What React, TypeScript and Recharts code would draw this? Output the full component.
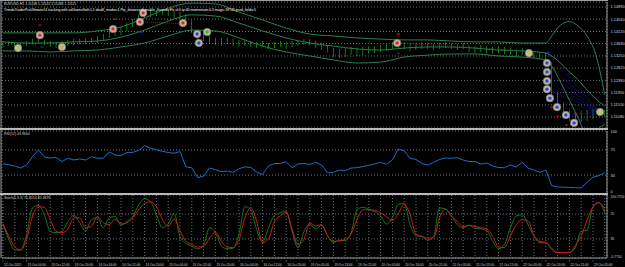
import React from "react";
import { Bar, CartesianGrid, ComposedChart, Line, Scatter, XAxis, YAxis } from "recharts";

// hourly bar index, one sample every second bar
const barTimes = [
  0, 2, 4, 6, 8, 10, 12, 14, 16, 18, 20, 22, 24, 26, 28, 30, 32, 34, 36, 38,
  40, 42, 44, 46, 48, 50, 52, 54, 56, 58, 60, 62, 64, 66, 68, 70, 72, 74, 76, 78,
  80, 82, 84, 86, 88, 90, 92, 94, 96, 98, 100, 102, 104, 106, 108, 110, 112, 114, 116, 118,
  120, 122, 124, 126, 128, 130, 132, 134, 136, 138, 140, 142, 144, 146, 148, 150, 152, 154, 156, 158,
  160, 162, 164, 166, 168, 170, 172, 174, 176, 178, 180, 182, 184, 186, 188, 190, 192, 194, 196, 198,
  200, 202, 204,
];

const priceHigh = [
  1.1378, 1.1378, 1.1375, 1.1371, 1.1378, 1.1385, 1.1392, 1.1382, 1.1378, 1.1371,
  1.1378, 1.1382, 1.1385, 1.1385, 1.1389, 1.1389, 1.1396, 1.1403, 1.1414, 1.1421,
  1.1428, 1.1442, 1.1456, 1.1471, 1.1485, 1.1488, 1.1488, 1.1492, 1.1488, 1.1485,
  1.1481, 1.1474, 1.1453, 1.1417, 1.141, 1.1399, 1.1389, 1.1389, 1.1389, 1.1385,
  1.1382, 1.1382, 1.1378, 1.1375, 1.1378, 1.1371, 1.1375, 1.1378, 1.1375, 1.1378,
  1.1382, 1.1385, 1.1385, 1.1378, 1.1371, 1.1364, 1.1353, 1.135, 1.1353, 1.1357,
  1.1353, 1.1357, 1.136, 1.136, 1.1364, 1.1367, 1.1375, 1.1382, 1.1375, 1.1367,
  1.1371, 1.1375, 1.1371, 1.1367, 1.1371, 1.1375, 1.1371, 1.1367, 1.1371, 1.1364,
  1.136, 1.1364, 1.136, 1.1357, 1.136, 1.1357, 1.1353, 1.135, 1.1353, 1.135,
  1.1343, 1.1339, 1.1339, 1.1303, 1.1197, 1.1158, 1.1133, 1.1119, 1.1129, 1.1133,
  1.1136, 1.1136, 1.1133,
];

const priceLow = [
  1.1357, 1.136, 1.1353, 1.135, 1.136, 1.1367, 1.1375, 1.1364, 1.1357, 1.1353,
  1.1357, 1.136, 1.1364, 1.1367, 1.1367, 1.1371, 1.1371, 1.1382, 1.1389, 1.1396,
  1.1399, 1.1414, 1.1428, 1.1442, 1.146, 1.1463, 1.1467, 1.1471, 1.1467, 1.146,
  1.1456, 1.1439, 1.1407, 1.1382, 1.1378, 1.1367, 1.1364, 1.136, 1.1367, 1.136,
  1.1357, 1.136, 1.1357, 1.1353, 1.1357, 1.135, 1.1353, 1.1357, 1.135, 1.1357,
  1.136, 1.1364, 1.1364, 1.1353, 1.1346, 1.1339, 1.1321, 1.1318, 1.1321, 1.1328,
  1.1325, 1.1328, 1.1332, 1.1335, 1.1339, 1.1343, 1.135, 1.1353, 1.135, 1.1343,
  1.1346, 1.135, 1.135, 1.1346, 1.135, 1.1353, 1.135, 1.1346, 1.135, 1.1339,
  1.1335, 1.1339, 1.1335, 1.1332, 1.1335, 1.1332, 1.1328, 1.1325, 1.1328, 1.1325,
  1.1318, 1.1314, 1.1296, 1.1176, 1.1133, 1.1112, 1.1094, 1.1083, 1.109, 1.1094,
  1.1101, 1.1112, 1.1108,
];

const rsiValues = [
  48, 46.5, 44.4, 41.2, 46, 59.3, 70, 58.8, 57.2, 58,
  51.6, 56.7, 54, 55.6, 54, 59.3, 56.7, 56.7, 66.8, 62,
  60.9, 66, 66, 69.2, 76.9, 72.4, 70.3, 67.8, 65.8, 64.7,
  67.3, 43.3, 41.7, 26, 28.4, 41.2, 38.8, 35.6, 36.4, 34.3,
  40.1, 43.1, 42, 34.8, 31.1, 44.4, 48.4, 48.4, 51.3, 41.7,
  47.6, 48.4, 47.1, 50.3, 46, 33.5, 34.3, 38, 37.2, 41.2,
  41.7, 43.6, 45.5, 47.6, 50.3, 47.1, 54, 71.6, 68.4, 56.7,
  54.8, 48.4, 46, 50.3, 54.8, 57.2, 56.7, 57.7, 54, 51.6,
  51.6, 47.6, 49.2, 44.4, 42, 41.7, 46, 42.8, 50.3, 41.2,
  38, 34.3, 38, 13.2, 11.1, 10.8, 10.3, 10, 9.7, 18.8,
  26.8, 29.2, 34,
];

const stochMain = [
  53, 29, 12, 12, 37, 80, 84, 69, 42, 40,
  42, 58, 68, 56, 43, 61, 64, 48, 64, 66,
  52, 58, 66, 85, 95, 90, 69, 48, 54, 71,
  34, 23, 18, 14, 20, 48, 40, 19, 14, 15,
  38, 82, 77, 45, 25, 48, 68, 72, 75, 42,
  16, 42, 54, 46, 52, 36, 24, 28, 27, 40,
  77, 81, 78, 74, 67, 54, 64, 86, 87, 53,
  35, 34, 28, 34, 80, 78, 67, 53, 48, 52,
  47, 46, 43, 26, 14, 21, 48, 67, 69, 53,
  35, 26, 24, 15, 8, 8, 8, 16, 42, 44,
  82, 88, 72,
];

const stochSignal = [
  54, 34, 17, 12, 29, 67, 82, 81, 62, 42,
  40, 46, 64, 64, 48, 51, 66, 56, 53, 62,
  54, 56, 64, 77, 87, 90, 82, 62, 50, 62,
  43, 26, 21, 17, 18, 31, 41, 26, 17, 16,
  29, 64, 80, 58, 24, 30, 58, 67, 73, 46,
  21, 29, 56, 51, 53, 35, 26, 27, 29, 38,
  61, 77, 77, 76, 72, 66, 60, 71, 86, 69,
  38, 34, 31, 32, 64, 78, 67, 58, 50, 52,
  50, 48, 46, 34, 17, 16, 35, 53, 61, 59,
  35, 24, 24, 13, 8, 8, 8, 19, 35, 60,
  82, 89, 77,
];

// bands
const bandTimes = [
  0, 8, 16, 24, 32, 40, 48, 56, 64, 72, 80, 88, 96, 104, 112, 120, 128, 136, 144, 152,
  160, 168, 176, 184, 186, 189, 192, 195, 198, 201, 204,
];
const upperBand = [
  1.1407, 1.1407, 1.1407, 1.1407, 1.1414, 1.1428, 1.146, 1.1495, 1.1513, 1.151,
  1.1481, 1.1453, 1.1424, 1.1403, 1.1396, 1.1389, 1.1385, 1.1382, 1.1382, 1.1378,
  1.1375, 1.1375, 1.1371, 1.1371, 1.1396, 1.1435, 1.1447, 1.1431, 1.1396, 1.1328, 1.1186,
];
const middleBand = [
  1.1375, 1.1371, 1.1371, 1.1375, 1.1378, 1.1392, 1.1417, 1.1449, 1.1471, 1.1467,
  1.1442, 1.1414, 1.1389, 1.1371, 1.136, 1.135, 1.1346, 1.1353, 1.1357, 1.1357,
  1.1353, 1.1346, 1.1343, 1.1335, 1.1325, 1.13, 1.1268, 1.124, 1.1204, 1.1172, 1.1147,
];
const lowerBand = [
  1.1343, 1.1343, 1.1339, 1.1343, 1.1346, 1.1357, 1.1371, 1.1396, 1.1417, 1.1414,
  1.1389, 1.136, 1.1339, 1.1325, 1.1311, 1.13, 1.1303, 1.1321, 1.1328, 1.1332,
  1.1332, 1.1325, 1.1321, 1.1311, 1.1289, 1.1232, 1.1168, 1.1104, 1.1047, 1.1062, 1.1083,
];

// signal circles
const signalTimes = [5.1, 12.5, 20, 37.3, 46.4, 47.5, 61, 65.8, 66.4, 69.2, 133.6, 178.3, 184.4, 184.4, 184.4, 184.4, 185.4, 187.8, 190.8, 193.6, 202.4];
const signalPrices = [1.1353, 1.1399, 1.1357, 1.1421, 1.1446, 1.1478, 1.1442, 1.1403, 1.1371, 1.141, 1.1371, 1.1335, 1.13, 1.1268, 1.1236, 1.1207, 1.1175, 1.1143, 1.1115, 1.1087, 1.1126];
const signalKinds = ["lime", "red", "orange", "red", "red", "red", "red", "blue", "blue", "green", "red", "lime", "blue", "blue", "blue", "blue", "blue", "blue", "blue", "blue", "lime"];

// small arrows
const markTimes = [12.5, 38, 134, 186, 188, 191, 194, 13.2, 47, 134, 184.8];
const markPrices = [1.1435, 1.1456, 1.1403, 1.1143, 1.1111, 1.108, 1.1122, 1.1357, 1.141, 1.1335, 1.1339];
const markKinds = ["red", "red", "red", "red", "red", "red", "red", "blue", "blue", "blue", "blue"];

// fan of blue dotted lines after the drop
const fanStartTimes = [184.6, 184.4, 184.4, 184.4, 184.4, 185.4, 187.8, 190.8, 193.6];
const fanStartPrices = [1.1335, 1.13, 1.1268, 1.1236, 1.1207, 1.1175, 1.1143, 1.1115, 1.1087];
const fanEndTime = 202.4;
const fanEndPrice = 1.1126;

// red dotted lines
const redLineTimes = [[47.5, 61], [135, 178]];
const redLinePrices = [[1.1446, 1.1439], [1.1371, 1.1342]];

const priceTicks = [1.1108, 1.1151, 1.1195, 1.1238, 1.1282, 1.1325, 1.1369, 1.1412, 1.1456, 1.1499];
const rsiTicks = [0, 30, 70, 100];
const stochTicks = [-0.775, 30, 70, 100.775];

const gridTimes = [
  0, 4, 8, 12, 16, 20, 24, 28, 32, 36, 40, 44, 48, 52, 56, 60, 64, 68, 72, 76, 80, 84, 88, 92, 96, 100,
  104, 108, 112, 116, 120, 124, 128, 132, 136, 140, 144, 148, 152, 156, 160, 164, 168, 172, 176, 180, 184, 188, 192, 196, 200, 204,
];
const labelTimes = [0, 8, 16, 24, 32, 40, 48, 56, 64, 72, 80, 88, 96, 104, 112, 120, 128, 136, 144, 152, 160, 168, 176, 184, 192, 200];
const timeLabels = [
  "12 Oct 2015", "13 Oct 04:00", "13 Oct 12:00", "13 Oct 20:00", "14 Oct 04:00", "14 Oct 12:00", "14 Oct 20:00",
  "15 Oct 04:00", "15 Oct 12:00", "15 Oct 20:00", "16 Oct 04:00", "16 Oct 12:00", "16 Oct 20:00", "19 Oct 05:00",
  "19 Oct 13:00", "19 Oct 21:00", "20 Oct 05:00", "20 Oct 13:00", "20 Oct 21:00", "21 Oct 05:00", "21 Oct 13:00",
  "21 Oct 21:00", "22 Oct 05:00", "22 Oct 13:00", "22 Oct 21:00", "23 Oct 05:00",
];

const FONT = "'Liberation Sans', Arial, sans-serif";
const GRID = "#66707b";
const TEXT = "#d2d2d2";
const AXIS = "#9c9c9c";
const X_DOMAIN: [number, number] = [-0.34, 204.75];

const CIRCLE_COLORS: { [k: string]: string } = {
  red: "#e4262a",
  blue: "#2346e0",
  lime: "#b4d236",
  orange: "#e8a020",
  green: "#2cc02c",
};

const mainData = barTimes.map((t, i) => ({ t, range: [priceLow[i], priceHigh[i]] }));
const rsiData = barTimes.map((t, i) => ({ t, v: rsiValues[i] }));
const stochData = barTimes.map((t, i) => ({ t, main: stochMain[i], signal: stochSignal[i] }));
const bandData = (vals: number[]) => bandTimes.map((t, i) => ({ t, v: vals[i] }));
const signalData = signalTimes.map((t, i) => ({ t, v: signalPrices[i], kind: signalKinds[i] }));
const markData = markTimes.map((t, i) => ({ t, v: markPrices[i], kind: markKinds[i] }));
const fanData = fanStartTimes.map((t, i) => [
  { t, v: fanStartPrices[i] },
  { t: fanEndTime, v: fanEndPrice },
]);
const redLineData = redLineTimes.map((ts, i) => ts.map((t, j) => ({ t, v: redLinePrices[i][j] })));

const SignalCircle = (props: any) => {
  const { cx, cy, payload } = props;
  return (
    <g>
      <circle cx={cx} cy={cy} r={3.8} fill="#bfb9a6" stroke="#6e6a5d" strokeWidth={0.6} />
      <circle cx={cx} cy={cy} r={1.7} fill={CIRCLE_COLORS[payload.kind]} />
    </g>
  );
};

const Mark = (props: any) => {
  const { cx, cy, payload } = props;
  return <rect x={cx - 1.5} y={cy - 0.5} width={3} height={1.2} fill={payload.kind === "red" ? "#c01818" : "#1a2ad0"} />;
};

// right-hand scale labels; dy nudges the edge labels so neighbouring panels do not collide
const rightTick = (fmt: (v: number) => string, dyFor: (v: number) => number, size: number) => (props: any) => {
  const { x, y, payload } = props;
  return (
    <text x={x + 1.5} y={y + 1.4 + dyFor(payload.value)} fill={TEXT} fontSize={size} fontFamily={FONT}>
      {fmt(payload.value)}
    </text>
  );
};

const TimeTick = (props: any) => {
  const { x, y, payload } = props;
  const idx = labelTimes.indexOf(payload.value);
  if (idx < 0) return <g />;
  return (
    <g>
      <line x1={x} x2={x} y1={y} y2={y + 1.5} stroke={AXIS} strokeWidth={0.6} />
      <text x={x + 1} y={y + 5.5} fill={TEXT} fontSize={3.2} fontFamily={FONT}>
        {timeLabels[idx]}
      </text>
    </g>
  );
};

const hiddenX = (
  <XAxis dataKey="t" type="number" domain={X_DOMAIN} ticks={gridTimes} allowDataOverflow height={0} tick={false} axisLine={false} tickLine={false} />
);

export default function App() {
  return (
    <div style={{ position: "absolute", left: 0, top: 0, width: 625, height: 267, background: "#000", overflow: "hidden" }}>
      <div style={{ position: "absolute", left: 0, top: 0 }}>
        <ComposedChart width={625} height={130} data={mainData} margin={{ top: 2, right: 0, bottom: 2, left: 2 }}>
          <CartesianGrid stroke={GRID} strokeDasharray="1 2" />
          {hiddenX}
          <YAxis
            orientation="right"
            width={18}
            domain={[1.10689, 1.15168]}
            ticks={priceTicks}
            interval={0}
            allowDataOverflow
            tick={rightTick((v) => v.toFixed(5), () => 0, 3.9)}
            tickLine={false}
            tickSize={0}
            axisLine={{ stroke: AXIS }}
          />
          {fanData.map((d, i) => (
            <Line key={"fan" + i} data={d} dataKey="v" stroke="#1a1ab4" strokeWidth={0.8} strokeDasharray="1 1" dot={false} activeDot={false} isAnimationActive={false} />
          ))}
          <Line data={bandData(upperBand)} dataKey="v" type="monotone" stroke="#2e7f4f" strokeWidth={1} dot={false} activeDot={false} isAnimationActive={false} />
          <Line data={bandData(middleBand)} dataKey="v" type="monotone" stroke="#2e7f4f" strokeWidth={1} dot={false} activeDot={false} isAnimationActive={false} />
          <Line data={bandData(lowerBand)} dataKey="v" type="monotone" stroke="#2e7f4f" strokeWidth={1} dot={false} activeDot={false} isAnimationActive={false} />
          <Bar dataKey="range" fill="#22dc22" barSize={3} isAnimationActive={false} />
          {redLineData.map((d, i) => (
            <Line key={"rl" + i} data={d} dataKey="v" stroke="#a01010" strokeWidth={1} strokeDasharray="1 1" dot={false} activeDot={false} isAnimationActive={false} />
          ))}
          <Scatter data={markData} dataKey="v" shape={Mark} isAnimationActive={false} />
          <Scatter data={signalData} dataKey="v" shape={SignalCircle} isAnimationActive={false} />
        </ComposedChart>
      </div>

      <div style={{ position: "absolute", left: 0, top: 129 }}>
        <ComposedChart width={625} height={67} data={rsiData} margin={{ top: 2, right: 0, bottom: 2, left: 2 }}>
          <CartesianGrid stroke={GRID} strokeDasharray="1 2" />
          {hiddenX}
          <YAxis
            orientation="right"
            width={18}
            domain={[0, 100]}
            ticks={rsiTicks}
            interval={0}
            allowDataOverflow
            tick={rightTick((v) => String(v), (v) => (v === 0 ? -2 : v === 100 ? 1 : 0), 3.9)}
            tickLine={false}
            tickSize={0}
            axisLine={{ stroke: AXIS }}
          />
          <Line dataKey="v" stroke="#1c6fc8" strokeWidth={1} dot={false} activeDot={false} isAnimationActive={false} />
        </ComposedChart>
      </div>

      <div style={{ position: "absolute", left: 0, top: 193 }}>
        <ComposedChart width={625} height={74} data={stochData} margin={{ top: 2, right: 0, bottom: 0, left: 2 }}>
          <CartesianGrid stroke={GRID} strokeDasharray="1 2" />
          <XAxis
            dataKey="t"
            type="number"
            domain={X_DOMAIN}
            ticks={gridTimes}
            interval={0}
            allowDataOverflow
            height={9}
            tick={TimeTick}
            tickLine={false}
            tickSize={0}
            axisLine={{ stroke: AXIS }}
          />
          <YAxis
            orientation="right"
            width={18}
            domain={[-0.775, 100.775]}
            ticks={stochTicks}
            interval={0}
            allowDataOverflow
            tick={rightTick(
              (v) => (Number.isInteger(v) ? String(v) : v.toFixed(4)),
              (v) => (v > 100 ? 1.5 : v < 0 ? -1 : 0),
              3.3
            )}
            tickLine={false}
            tickSize={0}
            axisLine={{ stroke: AXIS }}
          />
          <Line dataKey="main" type="monotone" stroke="#147a14" strokeWidth={1} dot={false} activeDot={false} isAnimationActive={false} />
          <Line dataKey="signal" type="monotone" stroke="#d21a1a" strokeWidth={1} dot={false} activeDot={false} isAnimationActive={false} />
        </ComposedChart>
      </div>

      <svg width={625} height={267} style={{ position: "absolute", left: 0, top: 0, pointerEvents: "none" }}>
        <rect x={0} y={0} width={608} height={1} fill={AXIS} />
        <rect x={0.5} y={0} width={1} height={258} fill={AXIS} />
        <rect x={0} y={128} width={608} height={2} fill="#b8b8b8" />
        <rect x={0} y={193} width={608} height={2} fill="#b8b8b8" />
        <text x={4} y={5} fill={TEXT} fontSize={3.5} fontFamily={FONT}>EURUSD,H1 1.11118 1.11145 1.11083 1.11111</text>
        <text x={4} y={10.5} fill="#ffffff" fontSize={3.5} fontFamily={FONT}>
          TrendsTraderProUltimate14 tracking with adGannsSoft:1.1 dealtl_modes:1 Pip_distance:0 enable_Sounds:Fls sl:0 tp:40 momentum:0.5 magic:19745 prod_fields:5
        </text>
        <text x={4} y={135} fill={TEXT} fontSize={3.5} fontFamily={FONT}>RSI(12) 43.9600</text>
        <text x={4} y={199} fill={TEXT} fontSize={3.5} fontFamily={FONT}>Stoch(5,3,3) 75.6553 82.3879</text>
      </svg>
    </div>
  );
}
